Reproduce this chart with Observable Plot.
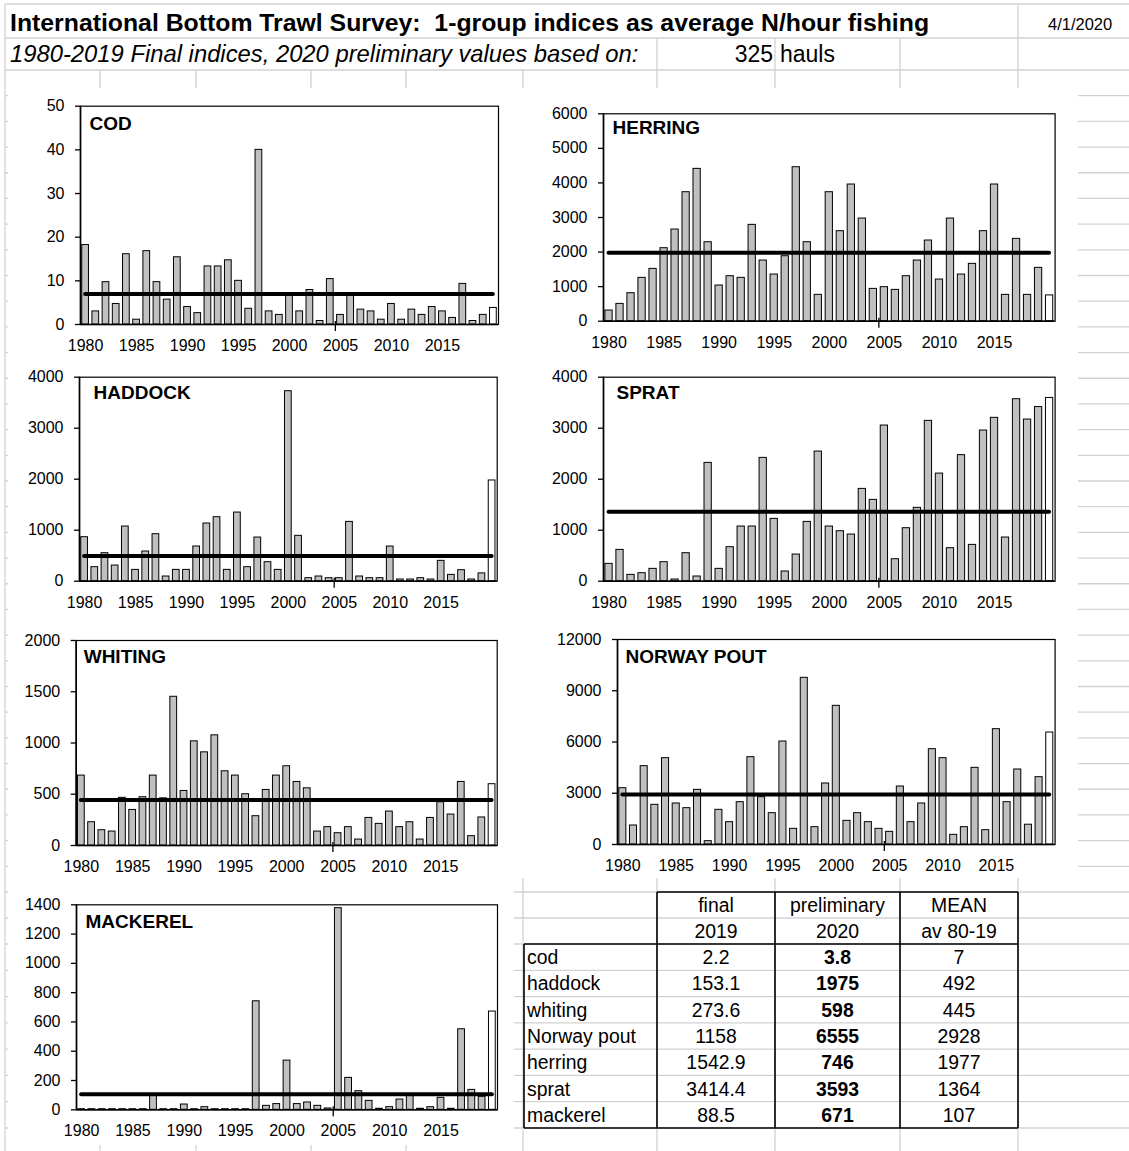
<!DOCTYPE html>
<html>
<head>
<meta charset="utf-8">
<script src="https://cdn.jsdelivr.net/npm/d3@7"></script>
<script src="https://cdn.jsdelivr.net/npm/@observablehq/plot@0.6"></script>
<style>
  body { margin: 0; background: #fff; }
  #sheet { position: relative; width: 1129px; height: 1151px; overflow: hidden; background: #fff;
           font-family: "Liberation Sans", Arial, Helvetica, sans-serif; }
  .layer { position: absolute; left: 0; top: 0; }
  .panel { position: absolute; background: #fff; }
  .panel svg { display: block; }
</style>
</head>
<body>
<div id="sheet"></div>
<script>
// ---- survey years and axis ticks ----
const years = [1980, 1981, 1982, 1983, 1984, 1985, 1986, 1987, 1988, 1989,
               1990, 1991, 1992, 1993, 1994, 1995, 1996, 1997, 1998, 1999,
               2000, 2001, 2002, 2003, 2004, 2005, 2006, 2007, 2008, 2009,
               2010, 2011, 2012, 2013, 2014, 2015, 2016, 2017, 2018, 2019, 2020];
const xTickYears = [1980, 1985, 1990, 1995, 2000, 2005, 2010, 2015];

// ---- 1-group indices (N/hour), 1980-2019 final, 2020 preliminary ----
const cod = [18.2, 3.0, 9.7, 4.7, 16.1, 1.1, 16.8, 9.7, 5.7, 15.4,
             4.0, 2.6, 13.3, 13.3, 14.7, 10.0, 3.6, 40.0, 3.0, 2.2,
             7.2, 3.0, 7.9, 0.8, 10.4, 2.2, 7.2, 3.4, 3.0, 1.1,
             4.7, 1.1, 3.4, 2.2, 4.0, 3.0, 1.5, 9.3, 0.8, 2.2, 3.8];
const herring = [309, 501, 810, 1254, 1514, 2112, 2652, 3732, 4407, 2285,
                 1032, 1302, 1254, 2787, 1755, 1350, 1880, 4455, 2285, 762,
                 3732, 2604, 3954, 2970, 935, 984, 906, 1302, 1755, 2334,
                 1205, 2970, 1350, 1659, 2604, 3954, 762, 2382, 762, 1542.9, 746];
const haddock = [863, 275, 549, 307, 1072, 222, 582, 922, 92, 222,
                 222, 680, 1131, 1255, 222, 1346, 275, 856, 373, 222,
                 3725, 889, 59, 92, 59, 59, 1163, 92, 59, 59,
                 680, 33, 33, 59, 33, 399, 124, 216, 33, 153.1, 1975];
const sprat = [340, 614, 124, 157, 242, 373, 33, 549, 92, 2320,
               242, 667, 1072, 1072, 2418, 1222, 190, 523, 1163, 2542,
               1072, 980, 915, 1810, 1595, 3052, 431, 1039, 1438, 3144,
               2110, 647, 2471, 712, 2954, 3203, 856, 3569, 3170, 3414.4, 3593];
const whiting = [682, 227, 149, 136, 465, 347, 471, 682, 460, 1451,
                 532, 1016, 909, 1075, 724, 682, 500, 286, 542, 682,
                 773, 620, 558, 136, 179, 120, 179, 58, 269, 211,
                 331, 179, 227, 58, 269, 422, 302, 620, 91, 273.6, 598];
const norwayPout = [3297, 1112, 4585, 2322, 5054, 2400, 2127, 3200, 195, 2029,
                    1307, 2478, 5112, 2771, 1834, 6029, 917, 9756, 1015, 3571,
                    8117, 1385, 1834, 1307, 917, 741, 3395, 1307, 2400, 5580,
                    5054, 566, 1015, 4488, 839, 6751, 2478, 4390, 1158, 3941, 6555];
const mackerel = [4, 4, 4, 4, 4, 4, 4, 98, 4, 4,
                  36, 4, 18, 4, 4, 4, 4, 741, 27, 39,
                  336, 39, 50, 27, 9, 1377, 218, 127, 61, 7,
                  18, 70, 100, 7, 18, 82, 7, 550, 136, 88.5, 671];

// ---- y-axis ticks per species ----
const codTicks = [0, 10, 20, 30, 40, 50];
const herringTicks = [0, 1000, 2000, 3000, 4000, 5000, 6000];
const haddockTicks = [0, 1000, 2000, 3000, 4000];
const spratTicks = [0, 1000, 2000, 3000, 4000];
const whitingTicks = [0, 500, 1000, 1500, 2000];
const norwayPoutTicks = [0, 3000, 6000, 9000, 12000];
const mackerelTicks = [0, 200, 400, 600, 800, 1000, 1200, 1400];

// ---- summary table ----
const tableHeader1 = ["final", "preliminary", "MEAN"];
const tableHeader2 = ["2019", "2020", "av 80-19"];
const tableSpecies = ["cod", "haddock", "whiting", "Norway pout", "herring", "sprat", "mackerel"];
const tableFinal2019 = ["2.2", "153.1", "273.6", "1158", "1542.9", "3414.4", "88.5"];
const tablePrelim2020 = ["3.8", "1975", "598", "6555", "746", "3593", "671"];
const tableMean = ["7", "492", "445", "2928", "1977", "1364", "107"];
const meanOf = name => +tableMean[tableSpecies.indexOf(name)];

const FONT = '"Liberation Sans", Arial, Helvetica, sans-serif';
const W = 1129, H = 1151;
const sheet = document.getElementById("sheet");

// ---- worksheet cell grid behind the charts ----
const grid = d3.select(sheet).append("svg").attr("class", "layer")
  .attr("width", W).attr("height", H);
const gridColor = "#d2d2d2";
const tableRows = [892, 918, 944, 970.3, 996.6, 1022.9, 1049.1, 1075.4, 1101.7, 1128];
const upperRows = d3.range(32).map(k => 70 + k * (892 - 70) / 32);
[4, 38, ...upperRows, ...tableRows].forEach(y =>
  grid.append("line").attr("x1", 5).attr("x2", W).attr("y1", y).attr("y2", y)
    .attr("stroke", gridColor).attr("stroke-width", 1.3));
const vLines = [[5, 4], [1018, 4], [657, 38], [775, 38], [900, 38],
                [100, 70], [196, 70], [311, 70], [406, 70], [523, 70]];
vLines.forEach(([x, y0]) =>
  grid.append("line").attr("x1", x).attr("x2", x).attr("y1", y0).attr("y2", H)
    .attr("stroke", gridColor).attr("stroke-width", 1.3));

// sheet heading cells
grid.append("text").attr("x", 10).attr("y", 31).style("white-space", "pre")
  .attr("font-family", FONT).attr("font-size", 24.8).attr("font-weight", "bold")
  .text("International Bottom Trawl Survey:  1-group indices as average N/hour fishing");
grid.append("text").attr("x", 1048).attr("y", 30)
  .attr("font-family", FONT).attr("font-size", 16.5).text("4/1/2020");
grid.append("text").attr("x", 10).attr("y", 62)
  .attr("font-family", FONT).attr("font-size", 23.8).attr("font-style", "italic")
  .text("1980-2019 Final indices, 2020 preliminary values based on:");
grid.append("text").attr("x", 773).attr("y", 62).attr("text-anchor", "end")
  .attr("font-family", FONT).attr("font-size", 23).text("325");
grid.append("text").attr("x", 780).attr("y", 62)
  .attr("font-family", FONT).attr("font-size", 23).text("hauls");

// ---- one bar chart per species ----
const panels = [
  {name: "COD", values: cod, mean: meanOf("cod"), ticks: codTicks,
   box: [8, 88, 506, 267], plot: [80, 105.7, 498, 324], label: [9, 10.5]},
  {name: "HERRING", values: herring, mean: meanOf("herring"), ticks: herringTicks,
   box: [514, 88, 564, 267], plot: [603, 113.3, 1054.6, 320.7], label: [9, 6.5]},
  {name: "HADDOCK", values: haddock, mean: meanOf("haddock"), ticks: haddockTicks,
   box: [8, 355, 506, 260], plot: [79, 376.7, 496.7, 580.7], label: [14, 8.5]},
  {name: "SPRAT", values: sprat, mean: meanOf("sprat"), ticks: spratTicks,
   box: [514, 355, 564, 260], plot: [603, 376.7, 1054.6, 580.7], label: [13, 8.5]},
  {name: "WHITING", values: whiting, mean: meanOf("whiting"), ticks: whitingTicks,
   box: [8, 615, 506, 263], plot: [75.7, 640, 496.7, 845], label: [7.5, 9]},
  {name: "NORWAY POUT", values: norwayPout, mean: meanOf("Norway pout"), ticks: norwayPoutTicks,
   box: [514, 615, 564, 263], plot: [617, 639, 1054.6, 844], label: [8, 10]},
  {name: "MACKEREL", values: mackerel, mean: meanOf("mackerel"), ticks: mackerelTicks,
   box: [8, 878, 506, 267], plot: [76, 904.3, 497, 1109.3], label: [9, 9.5]}
];

for (const p of panels) {
  const [bx, by, bw, bh] = p.box;
  const [left, top, right, bottom] = p.plot;
  const rows = years.map((year, i) => ({year, value: p.values[i]}));
  const chart = Plot.plot({
    width: bw, height: bh,
    marginLeft: left - bx, marginRight: bx + bw - right,
    marginTop: top - by, marginBottom: by + bh - bottom,
    style: {background: "#fff", fontFamily: FONT, fontSize: "16px", color: "#000", overflow: "visible"},
    x: {type: "linear", domain: [1979.5, 2020.5]},
    y: {domain: [0, p.ticks[p.ticks.length - 1]]},
    marks: [
      Plot.frame({stroke: "#000", strokeWidth: 1.2}),
      Plot.rect(rows, {
        x1: d => d.year - 0.33, x2: d => d.year + 0.33,
        y1: () => 0, y2: "value",
        fill: d => d.year === 2020 ? "#ffffff" : "#c0c0c0",
        stroke: "#000", strokeWidth: 1
      }),
      Plot.ruleY([p.mean], {x1: 1980, x2: 2020, stroke: "#000", strokeWidth: 4, strokeLinecap: "round"}),
      Plot.ruleX([1979.5], {stroke: "#000", strokeWidth: 1.6}),
      Plot.ruleY([0], {stroke: "#000", strokeWidth: 1.6}),
      Plot.ruleX([2004.5], {y1: 0, y2: 0, insetTop: -3, insetBottom: -7, stroke: "#000", strokeWidth: 1.3}),
      Plot.axisX({ticks: xTickYears, tickFormat: d => String(d), tickSize: 0, tickPadding: 15,
                  label: null, fontSize: 16}),
      Plot.axisY({ticks: p.ticks, tickFormat: d => String(d), tickSize: 5, tickPadding: 11,
                  label: null, fontSize: 16, strokeWidth: 1.3}),
      Plot.text([p.name], {frameAnchor: "top-left", text: d => d, dx: p.label[0], dy: p.label[1],
                           lineAnchor: "top", textAnchor: "start", fontWeight: "bold", fontSize: 19})
    ]
  });
  const holder = document.createElement("div");
  holder.className = "panel";
  holder.style.left = bx + "px";
  holder.style.top = by + "px";
  holder.style.width = bw + "px";
  holder.style.height = bh + "px";
  holder.appendChild(chart);
  sheet.appendChild(holder);
}

// ---- summary table drawn on top ----
const tbl = d3.select(sheet).append("svg").attr("class", "layer")
  .attr("width", W).attr("height", H).style("pointer-events", "none");
const colX = [524, 657, 775, 900, 1018];
const black = (x1, y1, x2, y2) => tbl.append("line")
  .attr("x1", x1).attr("y1", y1).attr("x2", x2).attr("y2", y2)
  .attr("stroke", "#000").attr("stroke-width", 1.6);
black(657, 892, 1018, 892);
black(524, 944, 1018, 944);
black(524, 1128, 1018, 1128);
black(524, 944, 524, 1128);
[657, 775, 900, 1018].forEach(x => black(x, 892, x, 1128));

const cell = (x, y, s, anchor, bold) => tbl.append("text")
  .attr("x", x).attr("y", y).attr("dy", "0.36em").attr("text-anchor", anchor)
  .attr("font-family", FONT).attr("font-size", 19.4)
  .attr("font-weight", bold ? "bold" : "normal").text(s);
const colMid = i => (colX[i + 1] + colX[i + 2]) / 2;
tableHeader1.forEach((s, i) => cell(colMid(i), (tableRows[0] + tableRows[1]) / 2, s, "middle"));
tableHeader2.forEach((s, i) => cell(colMid(i), (tableRows[1] + tableRows[2]) / 2, s, "middle"));
tableSpecies.forEach((s, r) => {
  const y = (tableRows[r + 2] + tableRows[r + 3]) / 2;
  cell(527, y, s, "start");
  cell(colMid(0), y, tableFinal2019[r], "middle");
  cell(colMid(1), y, tablePrelim2020[r], "middle", true);
  cell(colMid(2), y, tableMean[r], "middle");
});
</script>
</body>
</html>
